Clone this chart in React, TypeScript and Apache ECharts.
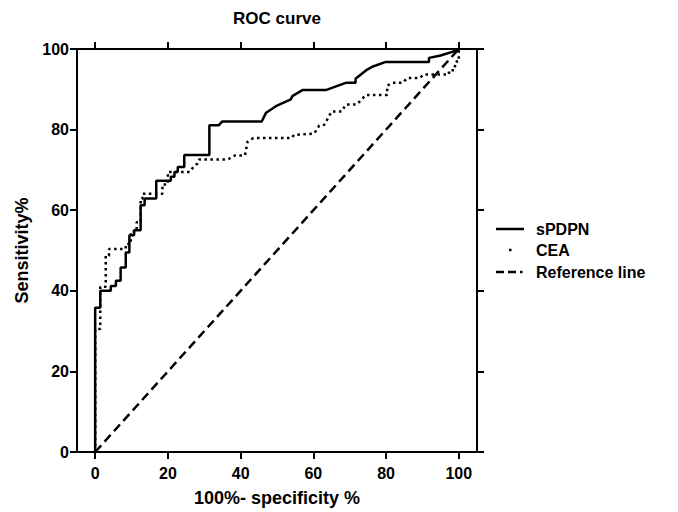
import React, { useEffect, useRef } from "react";
import * as echarts from "echarts";

const titleText = "ROC curve";
const xAxisName = "100%- specificity %";
const yAxisName = "Sensitivity%";
const tickValues = [0, 20, 40, 60, 80, 100];

const sPDPN: number[][] = [
  [0, 0], [0, 35.8], [1.4, 35.8], [1.4, 40], [4.3, 40], [4.3, 41.2], [5.7, 41.2], [5.7, 42.5],
  [7, 42.5], [7, 45.8], [8.4, 45.8], [8.4, 49.5], [9.4, 49.5], [9.4, 53.8], [10.7, 53.8], [10.7, 55],
  [12.5, 55], [12.5, 61.2], [13.6, 61.2], [13.6, 62.9], [16.8, 62.9], [16.8, 67.3], [20.8, 67.3],
  [20.8, 68.3], [21.8, 68.3], [21.8, 69.5], [22.7, 69.5], [22.7, 70.7], [24.5, 70.7], [24.5, 73.7],
  [31.4, 73.7], [31.4, 81.1], [34, 81.1], [34.9, 82], [45.8, 82], [47, 84.2], [49.7, 85.8],
  [53.8, 87.5], [54.2, 88.3], [57, 89.8], [63.4, 89.8], [68.9, 91.6], [71.6, 91.6], [71.6, 92.6],
  [74.8, 94.9], [76.2, 95.6], [79.9, 96.8], [91.8, 96.8], [91.8, 97.8], [95, 98.4], [98.2, 99.3],
  [100, 100],
];

const CEA: number[][] = [
  [0, 0], [0, 30.5], [1.4, 30.5], [1.4, 41], [2.9, 41], [2.9, 48.7], [3.8, 48.7], [3.8, 50.4],
  [8.4, 50.4], [8.4, 51.6], [9.8, 51.6], [9.8, 54.7], [11.4, 54.7], [11.4, 57], [12.5, 57],
  [12.5, 62.8], [13, 62.8], [13, 64.1], [18.5, 64.1], [18.5, 66.4], [20, 66.4], [20, 69.5],
  [26, 69.5], [27.3, 71.1], [28.2, 71.6], [28.6, 72.6], [36.5, 72.6], [38.5, 73.6], [41.2, 73.6],
  [41.4, 74.5], [41.9, 77], [43.5, 77.9], [54, 77.9], [54.7, 78.7], [60.2, 79], [61.6, 81],
  [63, 81.2], [64.3, 83.3], [65, 84.5], [67.8, 84.5], [68.9, 86.2], [71.8, 86.2], [73, 87.2],
  [74.4, 88.6], [80.3, 88.6], [80.3, 90.9], [81.7, 91.6], [84.6, 91.6], [85.8, 92.8], [89.2, 92.8],
  [90.4, 93.7], [97.3, 93.7], [97.3, 94.7], [98.8, 94.7], [99.1, 96.9], [100, 96.9], [100, 100],
];

const referenceLine: number[][] = [[0, 0], [100, 100]];

const seriesNames = ["sPDPN", "CEA", "Reference line"];

const FONT = '"Liberation Sans", Arial, Helvetica, sans-serif';

export default function App() {
  const ref = useRef<HTMLDivElement>(null);
  useEffect(() => {
    if (!ref.current) return;
    const chart = echarts.init(ref.current, null, { renderer: "svg" });
    const axisLine = { show: true, onZero: false, lineStyle: { color: "#000", width: 2 } };
    const axisTick = { show: true, inside: false, length: 7, lineStyle: { color: "#000", width: 2 } };
    const labelStyle = { color: "#000", fontFamily: FONT, fontWeight: "bold" as const, fontSize: 16 };
    const legendX = 496;
    const legendTextX = 536;
    const legendY = [229, 250, 272];
    chart.setOption({
      animation: false,
      backgroundColor: "#fff",
      title: {
        text: titleText,
        left: 277,
        top: 10,
        padding: 0,
        textAlign: "center",
        textStyle: { color: "#000", fontFamily: FONT, fontWeight: "bold", fontSize: 17 },
      },
      grid: { left: 77, top: 49, width: 400, height: 404, containLabel: false },
      xAxis: [
        {
          type: "value",
          position: "bottom",
          min: -5,
          max: 105,
          name: xAxisName,
          nameLocation: "middle",
          nameGap: 37,
          nameTextStyle: { ...labelStyle, fontSize: 18 },
          axisLine,
          axisTick: { ...axisTick, customValues: tickValues },
          axisLabel: { ...labelStyle, margin: 13, customValues: tickValues },
          splitLine: { show: false },
        },
        {
          type: "value",
          position: "top",
          min: -5,
          max: 105,
          axisLine,
          axisTick: { ...axisTick, customValues: tickValues },
          axisLabel: { show: false, customValues: tickValues },
          splitLine: { show: false },
        },
      ],
      yAxis: [
        {
          type: "value",
          position: "left",
          min: 0,
          max: 100,
          interval: 20,
          name: yAxisName,
          nameLocation: "middle",
          nameGap: 46,
          nameRotate: 90,
          nameTextStyle: { ...labelStyle, fontSize: 18 },
          axisLine,
          axisTick,
          axisLabel: { ...labelStyle, margin: 8 },
          splitLine: { show: false },
        },
        {
          type: "value",
          position: "right",
          min: 0,
          max: 100,
          interval: 20,
          axisLine,
          axisTick,
          axisLabel: { show: false },
          splitLine: { show: false },
        },
      ],
      series: [
        {
          name: seriesNames[0],
          type: "line",
          data: sPDPN,
          symbol: "none",
          silent: true,
          lineStyle: { color: "#000", width: 2.5 },
          z: 3,
        },
        {
          name: seriesNames[1],
          type: "line",
          data: CEA,
          symbol: "none",
          silent: true,
          lineStyle: { color: "#000", width: 2.5, type: [2.5, 3.5], cap: "butt" },
          z: 2,
        },
        {
          name: seriesNames[2],
          type: "line",
          data: referenceLine,
          symbol: "none",
          silent: true,
          lineStyle: { color: "#000", width: 2.5, type: [9, 5], cap: "butt" },
          z: 1,
        },
      ],
      graphic: [
        { type: "line", shape: { x1: legendX, y1: legendY[0], x2: legendX + 28, y2: legendY[0] }, style: { stroke: "#000", lineWidth: 2.5 } },
        { type: "rect", shape: { x: legendX + 13, y: legendY[1] - 1.25, width: 2.5, height: 2.5 }, style: { fill: "#000" } },
        { type: "line", shape: { x1: legendX, y1: legendY[2], x2: legendX + 8, y2: legendY[2] }, style: { stroke: "#000", lineWidth: 2.5 } },
        { type: "line", shape: { x1: legendX + 12, y1: legendY[2], x2: legendX + 20, y2: legendY[2] }, style: { stroke: "#000", lineWidth: 2.5 } },
        { type: "rect", shape: { x: legendX + 24, y: legendY[2] - 1.25, width: 2.5, height: 2.5 }, style: { fill: "#000" } },
        ...seriesNames.map((n, i) => ({
          type: "text",
          x: legendTextX,
          y: legendY[i],
          style: { text: n, fill: "#000", font: `bold 16px ${FONT}`, textVerticalAlign: "middle", textAlign: "left" },
        })),
      ],
    });
    return () => chart.dispose();
  }, []);
  return <div ref={ref} style={{ position: "fixed", left: 0, top: 0, width: 678, height: 512 }} />;
}
